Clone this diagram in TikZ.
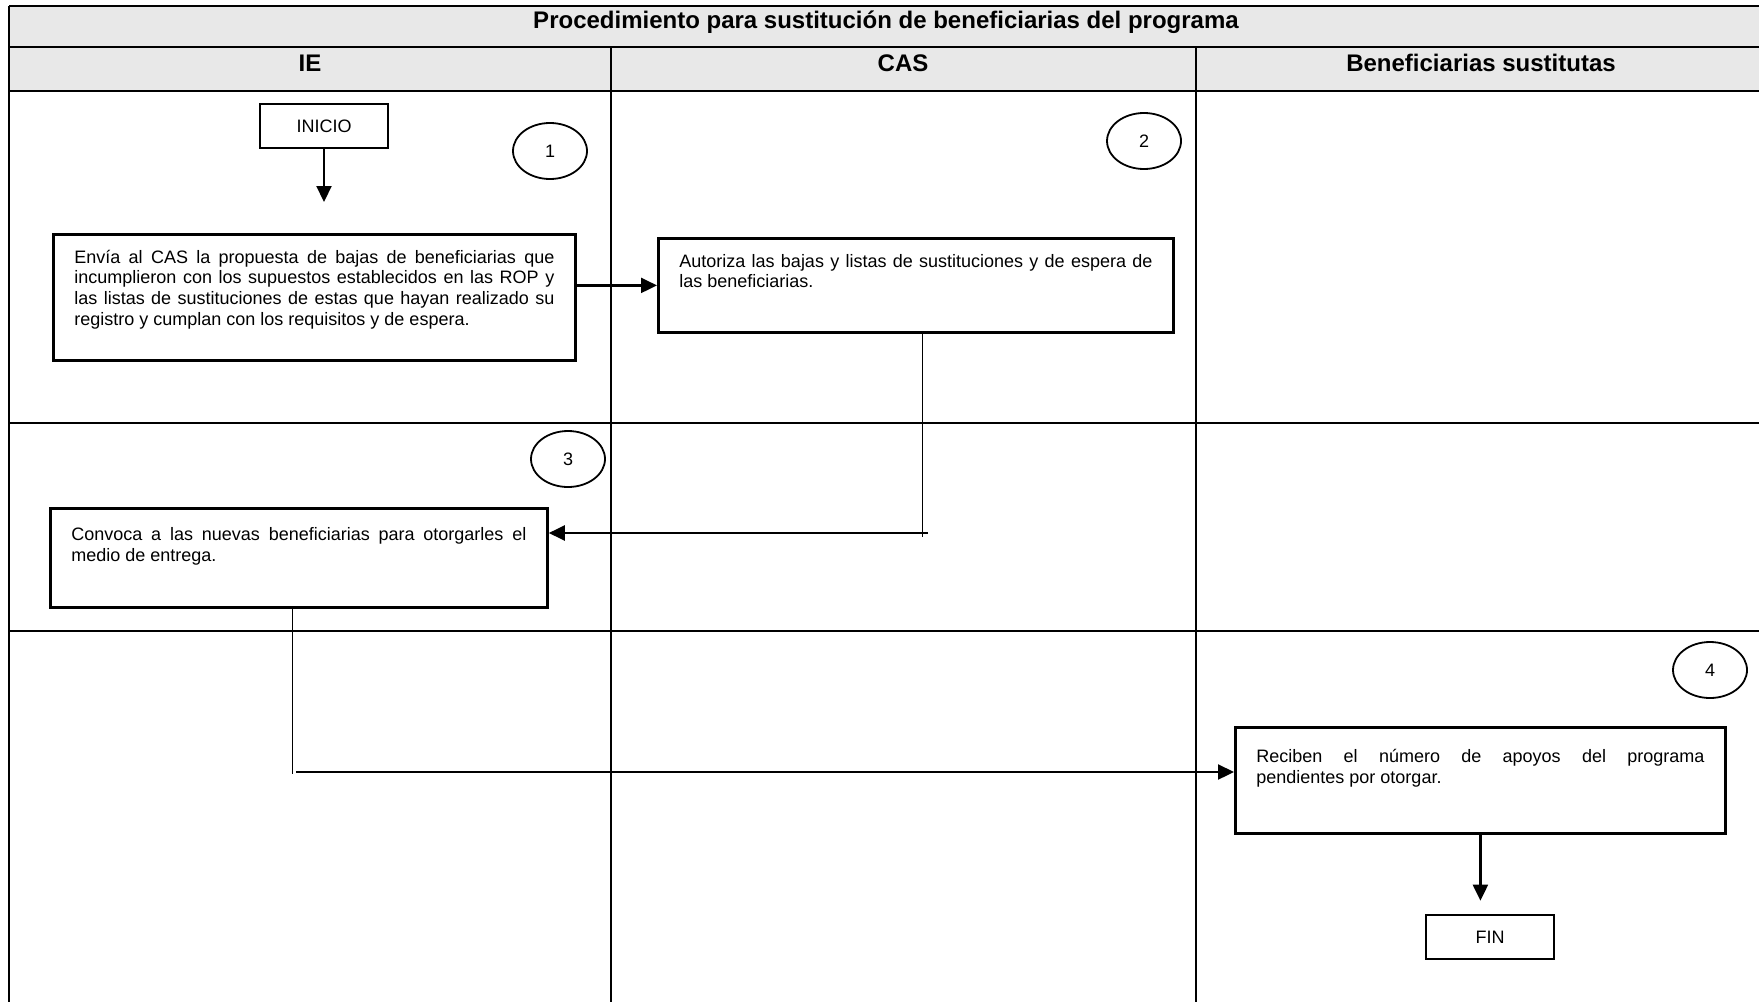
\documentclass[tikz,border=0pt]{standalone}
\usepackage{fontspec}
\setmainfont{Liberation Sans}
\usetikzlibrary{arrows.meta,shapes.geometric}

\newcommand{\steptext}[4][7.3pt]{\parbox[t][#3][t]{#2}{\tolerance=9999\hyphenpenalty=10000\rule{0pt}{#1}#4}}

\begin{document}
\begin{tikzpicture}[x=0.5pt, y=-0.5pt, >={Triangle[length=8pt,width=7.5pt]},
    grid/.style={line width=0.6pt},
    lane/.style={font=\fontsize{12}{14}\selectfont\bfseries, text height=9pt, text depth=2.5pt, inner sep=0pt},
    proc/.style={draw, line width=1.4pt, anchor=north west, inner xsep=10.5pt, inner ysep=7pt, font=\fontsize{9}{10.4}\selectfont},
    term/.style={draw, line width=1.3pt, minimum width=64pt, minimum height=22pt, inner sep=0pt, font=\fontsize{9}{10.4}\selectfont},
    num/.style={draw, ellipse, line width=0.9pt, minimum width=37pt, minimum height=28pt, inner sep=0pt, font=\fontsize{9}{10.4}\selectfont},
    flow/.style={->, line width=1.1pt},
    link/.style={line width=0.5pt}]
    \useasboundingbox (0,0) rectangle (1759,1001);

    % table
    \fill[black!9] (9,6) rectangle (1765,91);
    \foreach \y in {6,47,91,423,631}
      \draw[grid] (9,\y) -- (1765,\y);
    \draw[grid] (9,6) -- (9,1005);
    \draw[grid] (611,47) -- (611,1005);
    \draw[grid] (1196,47) -- (1196,1005);

    \node[lane] (title) at (886,22) {Procedimiento para sustitución de beneficiarias del programa};
    \node[lane] (ie) at (310,65) {IE};
    \node[lane] (cas) at (903,65) {CAS};
    \node[lane] (bs) at (1481,65) {Beneficiarias sustitutas};

    % steps
    \node[term] (inicio) at (324,126) {INICIO};
    \node[num] (n1) at (550,151) {1};
    \node[proc] (b1) at (52,233) {\steptext{240pt}{49pt}{Envía al CAS la propuesta de bajas de beneficiarias que\linebreak incumplieron con los supuestos establecidos en las ROP y\linebreak las listas de sustituciones de estas que hayan realizado su\linebreak registro y cumplan con los requisitos y de espera.}};

    \node[num] (n2) at (1144,141) {2};
    \node[proc] (b2) at (657,237) {\steptext{236.5pt}{33pt}{Autoriza las bajas y listas de sustituciones y de espera de\linebreak las beneficiarias.}};

    \node[num] (n3) at (568,459) {3};
    \node[proc] (b3) at (49,507) {\steptext[9pt]{227.5pt}{35.5pt}{Convoca a las nuevas beneficiarias para otorgarles el\linebreak medio de entrega.}};

    \node[num] (n4) at (1710,670) {4};
    \node[proc] (b4) at (1234,726) {\steptext[10.7pt]{224pt}{39pt}{Reciben el número de apoyos del programa\linebreak pendientes por otorgar.}};
    \node[term] (fin) at (1490,937) {FIN};

    % connectors
    \draw[flow, shorten >=15.5pt] (inicio.south) -- (inicio.south |- b1.north);
    \draw[flow] (b1.east |- b2.west) -- (b2.west);

    \coordinate (j1) at (922,533);
    \draw[link] (b2.south -| j1) -- ([yshift=-2pt]j1);
    \draw[flow] ([xshift=3pt]j1) -- (j1 -| b3.east);

    \coordinate (j2) at (292,772);
    \draw[link] (b3.south -| j2) -- ([yshift=-1pt]j2);
    \draw[flow] ([xshift=2pt]j2) -- (j2 -| b4.west);

    \draw[flow, shorten >=6.5pt] (b4.south) -- (b4.south |- fin.north);
\end{tikzpicture}
\end{document}
